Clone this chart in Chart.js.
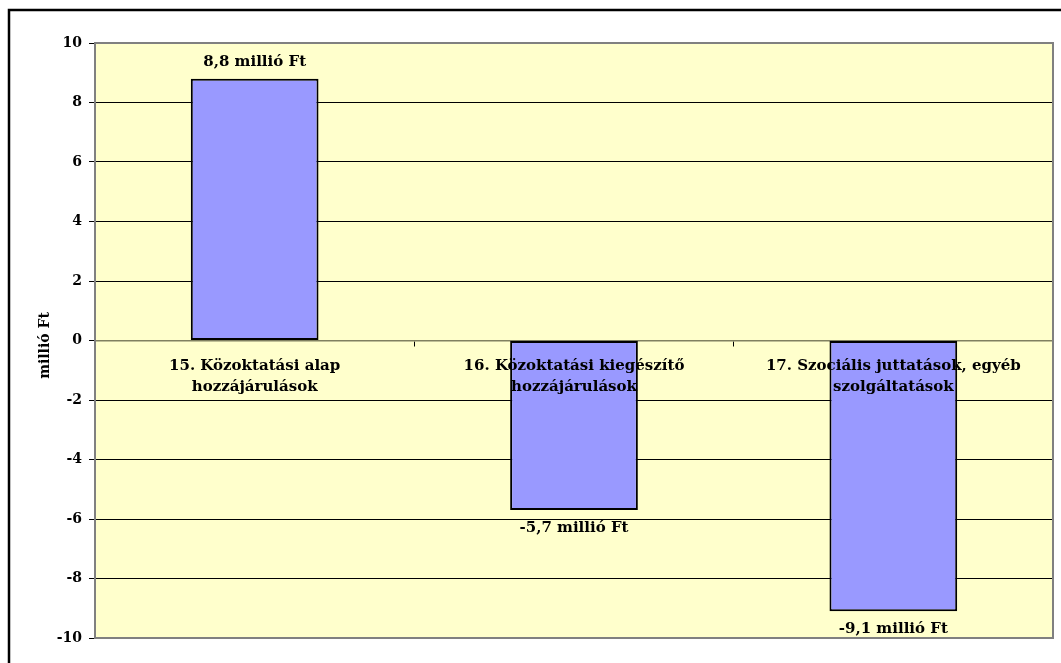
<!DOCTYPE html>
<html>
<head>
<meta charset="utf-8">
<script src="https://cdn.jsdelivr.net/npm/chart.js@4.4.1/dist/chart.umd.min.js"></script>
<style>
  html, body { margin: 0; padding: 0; background: #fff; }
  #wrap { width: 1061px; height: 663px; position: relative; }
</style>
</head>
<body>
<div id="wrap"><canvas id="chart" width="1061" height="663"></canvas></div>
<script>
// --- données ---
const categories = [
    ['15. Közoktatási alap', 'hozzájárulások'],
    ['16. Közoktatási kiegészítő', 'hozzájárulások'],
    ['17. Szociális juttatások, egyéb', 'szolgáltatások']
];
const values = [8.8, -5.7, -9.1];
const valueLabels = ['8,8 millió Ft', '-5,7 millió Ft', '-9,1 millió Ft'];
const yTicks = [-10, -8, -6, -4, -2, 0, 2, 4, 6, 8, 10];
const yTitle = 'millió Ft';

const FONT = '"DejaVu Serif", serif';

// cadre extérieur + fond jaune de la zone de tracé
const backgroundPlugin = {
    id: 'background',
    beforeDraw(chart) {
        const { ctx, chartArea: a } = chart;
        ctx.save();
        ctx.strokeStyle = '#000';
        ctx.lineWidth = 2.5;
        ctx.strokeRect(9, 10, 1200, 800);
        ctx.fillStyle = '#FFFFCC';
        ctx.fillRect(a.left, a.top, a.right - a.left, a.bottom - a.top);
        ctx.restore();
    },
    afterDraw(chart) {
        const { ctx, chartArea: a } = chart;
        ctx.save();
        ctx.strokeStyle = '#808080';
        ctx.lineWidth = 2;
        ctx.strokeRect(a.left, a.top, a.right - a.left, a.bottom - a.top);
        // titre de l'axe Y
        ctx.translate(45, (a.top + a.bottom) / 2 + 5);
        ctx.rotate(-Math.PI / 2);
        ctx.font = 'bold 14px ' + FONT;
        ctx.fillStyle = '#000';
        ctx.textAlign = 'center';
        ctx.textBaseline = 'middle';
        ctx.fillText(yTitle, 0, 0);
        ctx.restore();
    }
};

// étiquettes de valeur + catégories (par-dessus les barres)
const labelPlugin = {
    id: 'labels',
    afterDatasetsDraw(chart) {
        const { ctx } = chart;
        const meta = chart.getDatasetMeta(0);
        const xScale = chart.scales.x;
        const zeroY = chart.scales.y.getPixelForValue(0);
        ctx.save();
        ctx.fillStyle = '#000';
        ctx.textAlign = 'center';
        ctx.textBaseline = 'middle';
        ctx.font = 'bold 15px ' + FONT;
        meta.data.forEach((bar, i) => {
            const y = values[i] >= 0 ? bar.y - 17 : bar.y + 18;
            ctx.fillText(valueLabels[i], bar.x, y);
        });
        categories.forEach((lines, i) => {
            const x = xScale.getPixelForValue(i);
            lines.forEach((line, j) => {
                ctx.fillText(line, x, zeroY + 26 + j * 21);
            });
        });
        ctx.restore();
    }
};

new Chart(document.getElementById('chart'), {
    type: 'bar',
    data: {
        labels: categories,
        datasets: [{
            data: values,
            backgroundColor: '#9999FF',
            borderColor: '#000',
            borderWidth: 2,
            borderSkipped: false,
            categoryPercentage: 1,
            barPercentage: 0.4
        }]
    },
    options: {
        responsive: false,
        animation: false,
        layout: { padding: { left: 0, top: 43, right: 8, bottom: 25 } },
        plugins: {
            legend: { display: false },
            tooltip: { enabled: false }
        },
        scales: {
            x: {
                position: { y: 0 },
                grid: { offset: true, drawOnChartArea: false, tickLength: 5, color: '#000', lineWidth: 1 },
                border: { color: '#808060', width: 1.5 },
                ticks: { display: false }
            },
            y: {
                min: -10,
                max: 10,
                afterBuildTicks(scale) { scale.ticks = yTicks.map(v => ({ value: v })); },
                afterFit(scale) { scale.width = 95; },
                grid: { color: '#000', lineWidth: 1, tickLength: 6, drawTicks: true },
                border: { display: false },
                ticks: {
                    color: '#000',
                    font: { family: FONT, size: 14, weight: 'bold' },
                    padding: 7
                }
            }
        }
    },
    plugins: [backgroundPlugin, labelPlugin]
});
</script>
</body>
</html>
